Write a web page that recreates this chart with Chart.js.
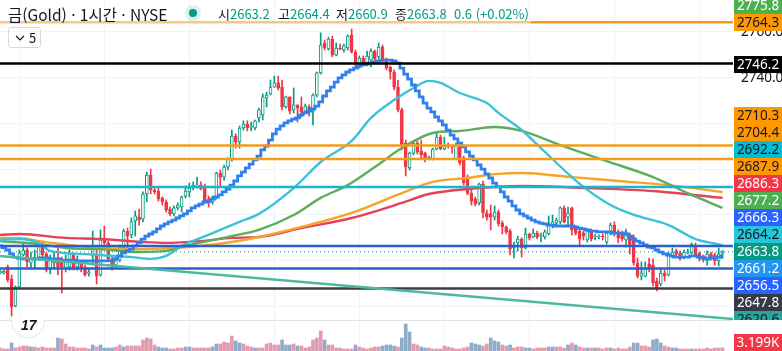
<!DOCTYPE html>
<html lang="ko">
<head>
<meta charset="utf-8">
<title>금(Gold) 1시간</title>
<script src="https://cdn.jsdelivr.net/npm/chart.js@4/dist/chart.umd.js"></script>
<style>
  html, body { margin: 0; padding: 0; background: #fff; }
  #wrap { position: relative; width: 782px; height: 351px; overflow: hidden; font-family: "Noto Sans CJK KR", "Noto Sans", sans-serif; color: #131722; }
  canvas { position: absolute; left: 0; top: 0; }
  .abs { position: absolute; white-space: nowrap; }
  .tag { position: absolute; left: 734px; width: 48px; height: 17px; font: 13.5px/17px "Noto Sans", sans-serif; text-align: center; }
  .num { color: #089981; }
</style>
</head>
<body>
<div id="wrap">
  <canvas id="chart" width="782" height="351"></canvas>
  <div class="abs" style="left:0;top:20px;width:531px;height:4px;background:rgba(255,255,255,.45)"></div>
  <div class="abs" style="left:8px;top:3px;font-size:15.5px;line-height:22px">금(Gold) · 1시간 · NYSE</div>
  <div class="abs" style="left:185px;top:5px;width:16px;height:16px;border-radius:50%;background:rgba(8,153,129,.14)"></div>
  <div class="abs" style="left:189px;top:9px;width:8px;height:8px;border-radius:50%;background:#089981"></div>
  <div id="ohlc"></div>
  <div class="abs" style="left:8px;top:27px;width:31px;height:19px;border:1px solid #d6d8de;border-radius:3px;font-size:13px;line-height:19px">
    <svg width="10" height="6" style="position:absolute;left:6px;top:7px"><path d="M1 1l4 4 4-4" fill="none" stroke="#131722" stroke-width="1.2"/></svg>
    <span style="position:absolute;left:20px;top:0">5</span>
  </div>
  <div class="abs" style="left:11px;top:320px;width:34px;height:19px;overflow:hidden">
    <div style="position:absolute;left:0;top:-16px;width:32px;height:32px;border:1px solid #e3e5ea;border-radius:50%;background:#fff"></div>
    <div style="position:absolute;left:10px;top:-2px;font:italic 900 14px/14px 'Liberation Sans',sans-serif;color:#131722">17</div>
  </div>
  <div id="tags"></div>
</div>
<script>
const opens = [
  2654.5,2654.5,2657.2,2651.9,2640.1,2648.4,2662.4,2664.6,2658.9,2660.2,
  2661.5,2666.8,2662.9,2656.3,2658.9,2660.2,2660.2,2656.7,2657.2,2662.9,
  2657.2,2658.9,2657.2,2654.5,2662.0,2662.4,2653.7,2669.0,2667.7,2660.7,
  2658.0,2660.2,2665.5,2672.9,2671.2,2677.3,2679.0,2678.2,2689.1,2697.4,
  2690.9,2690.4,2687.4,2685.6,2682.5,2680.4,2683.0,2683.4,2688.2,2690.0,
  2692.2,2692.6,2693.0,2692.6,2686.9,2685.6,2687.8,2698.3,2696.5,2700.9,
  2704.0,2714.5,2711.9,2718.0,2719.7,2718.4,2718.0,2722.4,2723.7,2731.1,
  2732.9,2735.9,2737.7,2735.9,2727.2,2731.6,2725.9,2728.1,2727.2,2725.4,
  2727.2,2725.4,2732.4,2742.1,2755.2,2752.6,2756.9,2749.9,2753.0,2752.1,
  2753.0,2758.7,2751.2,2745.6,2748.6,2746.4,2747.7,2751.7,2749.1,2753.4,
  2747.7,2744.7,2742.5,2735.9,2725.9,2711.4,2700.5,2707.0,2711.4,2707.9,
  2707.0,2704.4,2704.4,2708.8,2714.0,2708.8,2710.5,2710.1,2704.4,2709.7,
  2704.9,2696.1,2689.5,2686.9,2685.2,2693.5,2680.8,2680.4,2679.0,2681.2,
  2676.4,2674.7,2672.9,2665.5,2667.7,2669.4,2665.5,2671.6,2670.3,2672.0,
  2670.7,2670.3,2671.6,2675.5,2676.4,2676.9,2683.0,2679.0,2683.0,2674.2,
  2672.9,2672.0,2669.0,2672.9,2670.3,2670.3,2670.7,2668.1,2672.0,2675.5,
  2672.5,2672.0,2669.0,2670.3,2670.3,2658.9,2653.2,2653.2,2658.5,2658.0,
  2651.0,2649.7,2654.5,2653.7,2661.5,2664.2,2663.3,2661.5,2663.3,2663.3,
  2666.8,2663.3,2662.0,2659.8,2662.9,2662.4,2659.8,2663.2
]
const highs = [
  2655.8,2655.8,2658.0,2653.7,2648.9,2664.6,2667.2,2665.5,2663.7,2664.6,
  2667.7,2668.5,2663.7,2662.4,2663.3,2665.5,2661.5,2662.4,2664.6,2663.3,
  2662.0,2659.8,2658.0,2656.3,2672.9,2664.6,2673.4,2675.1,2668.5,2661.5,
  2661.5,2666.8,2673.8,2674.2,2678.6,2681.7,2682.5,2690.0,2698.7,2700.0,
  2692.2,2692.2,2687.8,2686.5,2683.4,2683.9,2685.2,2688.2,2692.6,2693.9,
  2694.4,2696.5,2694.4,2693.5,2688.2,2688.2,2698.7,2699.6,2701.8,2704.9,
  2717.1,2715.4,2718.9,2721.1,2721.1,2720.6,2721.5,2726.7,2732.9,2733.7,
  2739.0,2740.7,2740.7,2739.0,2732.0,2731.6,2735.5,2728.1,2731.6,2728.5,
  2728.1,2732.9,2742.5,2759.6,2756.5,2757.8,2758.2,2755.2,2754.7,2754.7,
  2758.7,2761.3,2752.1,2749.5,2749.5,2751.7,2752.6,2752.1,2755.2,2754.3,
  2748.6,2745.1,2743.4,2739.0,2726.7,2712.7,2707.5,2711.9,2712.3,2712.7,
  2707.5,2705.7,2709.2,2716.2,2714.9,2714.0,2711.4,2710.5,2711.4,2711.4,
  2705.7,2697.4,2690.9,2687.8,2693.9,2694.8,2682.1,2684.3,2683.9,2682.1,
  2677.3,2675.1,2673.8,2668.1,2670.7,2669.9,2674.2,2672.0,2673.8,2672.9,
  2672.0,2673.4,2679.5,2679.9,2678.6,2683.4,2683.9,2683.4,2683.4,2675.1,
  2674.2,2672.9,2673.8,2673.8,2671.6,2671.2,2671.6,2672.9,2676.4,2676.9,
  2673.4,2672.9,2673.8,2672.0,2671.2,2661.1,2659.4,2659.4,2661.1,2660.7,
  2652.3,2656.7,2655.8,2663.7,2665.5,2665.0,2664.2,2664.6,2665.0,2667.7,
  2667.7,2663.7,2662.4,2664.2,2663.7,2663.3,2665.5,2664.4
]
const lows = [
  2654.1,2654.1,2650.6,2635.7,2639.7,2648.0,2662.0,2657.2,2656.7,2656.7,
  2660.2,2661.5,2655.0,2654.1,2656.7,2653.7,2645.8,2655.0,2655.8,2655.8,
  2655.8,2655.0,2653.2,2653.2,2658.0,2649.7,2653.2,2664.6,2660.2,2655.8,
  2656.7,2659.4,2665.0,2664.6,2669.9,2670.7,2675.5,2676.9,2685.6,2689.1,
  2689.1,2686.0,2684.3,2681.2,2679.5,2679.5,2682.1,2681.2,2687.4,2687.8,
  2690.9,2691.7,2690.9,2685.2,2683.4,2684.7,2686.9,2692.2,2695.2,2699.6,
  2703.5,2709.2,2709.2,2717.1,2716.7,2716.7,2717.1,2720.6,2721.5,2727.2,
  2732.4,2735.9,2734.6,2725.9,2726.7,2724.1,2724.6,2720.6,2722.8,2724.6,
  2723.2,2719.3,2731.6,2741.6,2752.1,2752.1,2749.1,2749.5,2752.1,2751.2,
  2752.1,2750.8,2744.2,2744.2,2746.4,2745.1,2744.7,2747.3,2748.2,2746.9,
  2743.4,2739.4,2734.6,2725.0,2708.4,2697.0,2699.6,2706.2,2706.6,2704.9,
  2703.1,2704.0,2704.0,2708.4,2708.4,2708.4,2709.2,2707.0,2704.0,2701.8,
  2693.0,2688.7,2684.3,2683.9,2684.3,2678.6,2677.7,2673.4,2677.7,2675.1,
  2671.6,2671.6,2662.4,2661.1,2664.2,2661.5,2665.0,2669.0,2669.9,2669.4,
  2668.1,2669.4,2671.2,2674.2,2675.5,2676.0,2676.4,2675.5,2671.2,2671.2,
  2666.4,2669.0,2668.1,2668.5,2669.0,2669.4,2669.0,2667.2,2671.2,2670.7,
  2667.7,2668.5,2665.9,2662.9,2658.0,2652.3,2651.5,2652.8,2655.0,2648.9,
  2646.7,2648.9,2651.0,2653.2,2661.1,2661.5,2660.2,2660.7,2662.9,2662.9,
  2661.5,2659.8,2659.4,2658.0,2660.2,2658.0,2657.6,2660.9
]
const closes = [
  2655.4,2655.4,2651.5,2639.7,2648.4,2663.3,2664.6,2659.4,2661.1,2661.5,
  2666.8,2662.4,2655.8,2660.2,2660.2,2657.2,2657.2,2660.2,2662.9,2656.7,
  2660.2,2656.3,2653.7,2655.0,2665.0,2653.2,2669.0,2667.7,2660.7,2657.6,
  2660.2,2665.9,2672.9,2670.7,2676.9,2679.5,2677.7,2689.1,2697.4,2690.9,
  2690.0,2686.9,2685.6,2682.1,2680.4,2683.0,2684.3,2687.8,2690.4,2691.7,
  2693.0,2693.0,2691.3,2686.0,2685.2,2687.4,2698.3,2696.5,2700.9,2704.4,
  2714.5,2711.9,2718.0,2719.7,2718.0,2718.9,2721.1,2725.9,2731.6,2732.4,
  2735.9,2737.7,2735.5,2727.2,2731.6,2725.4,2728.1,2726.7,2725.0,2727.6,
  2725.0,2732.4,2742.1,2754.3,2753.0,2756.9,2749.9,2753.0,2752.6,2753.9,
  2758.2,2751.2,2746.4,2748.6,2746.9,2749.5,2751.7,2748.2,2753.4,2747.7,
  2744.2,2742.5,2735.9,2725.9,2710.5,2700.9,2707.0,2711.4,2707.5,2706.2,
  2704.4,2705.3,2708.8,2714.0,2708.8,2710.1,2710.1,2709.7,2710.5,2702.7,
  2693.9,2689.5,2686.0,2684.7,2693.5,2680.8,2679.0,2679.0,2681.2,2676.0,
  2674.7,2672.5,2665.0,2666.4,2669.4,2665.5,2671.6,2669.9,2672.0,2670.3,
  2671.2,2672.5,2676.4,2676.9,2677.7,2683.0,2676.9,2680.8,2673.4,2672.0,
  2669.4,2670.7,2672.9,2669.4,2670.7,2670.7,2670.3,2672.0,2675.5,2672.0,
  2669.9,2669.4,2672.5,2666.4,2658.9,2653.2,2654.5,2656.7,2656.3,2650.2,
  2648.0,2654.5,2653.2,2662.9,2663.7,2662.9,2660.7,2663.7,2663.7,2667.2,
  2662.4,2660.7,2660.7,2662.9,2661.1,2659.8,2662.9,2663.8
]
// 거래량 (K)
const volumes = [
  3,2,2,8,3,4,5,5,4,4, 3,4,3,3,3,13,12,7,4,4, 3,3,3,2,6,4,6,3,3,3, 4,6,4,5,5,5,5,11,13,12,
  6,4,3,3,2,2,3,3,4,4, 3,3,3,3,3,4,7,7,9,8, 15,10,8,7,5,4,3,3,3,7, 8,6,6,11,6,6,7,5,5,3,
  4,11,13,20,11,6,6,3,3,2, 2,2,6,4,3,2,3,4,4,5, 6,6,5,4,13,27,19,7,6,4, 3,3,2,2,2,5,4,3,2,2,
  3,4,8,7,6,5,7,13,10,9, 6,5,6,3,4,4,3,3,2,3, 3,3,4,4,4,4,3,6,8,6, 4,3,3,3,3,3,2,3,3,2,
  3,2,2,4,8,8,5,5,4,11, 12,8,5,4,3,3,2,2,2,2, 2,2,2,3,2,3,3,3.199
]
const blueVolumeBars = [3,8,15,24,26,27,28,29,32,41,42,43,48,49,55,56,61,62,66,73,74,75,77,84,92,99,100,101,102,104,105,106,109,110,122,123,124,127,128,129,132,136,137,142,143,147,149,152,154,158,164,165,169,170,171,174,175,179]

// 계단형 이동평균 (봉마다 한 값)
const stepMa = [
  2666.4,2665.5,2664.6,2662.9,2661.5,2661.1,2660.7,2660.7,2660.7,2660.7,
  2660.7,2661.1,2661.1,2660.7,2660.7,2660.7,2660.2,2660.2,2660.2,2660.2,
  2659.8,2659.8,2659.8,2659.8,2659.8,2659.8,2659.8,2659.8,2659.8,2659.8,
  2660.7,2662.0,2663.3,2664.2,2665.0,2666.4,2667.7,2669.4,2670.7,2671.6,
  2672.5,2673.8,2675.1,2676.0,2676.9,2677.7,2678.6,2679.5,2680.4,2681.7,
  2683.0,2683.9,2684.7,2685.6,2686.0,2686.9,2687.8,2688.7,2690.0,2691.3,
  2693.0,2694.8,2697.0,2698.7,2700.5,2702.2,2704.0,2705.7,2708.4,2710.1,
  2712.7,2715.4,2717.5,2718.9,2720.2,2721.1,2721.9,2722.4,2723.7,2724.6,
  2725.4,2726.3,2727.6,2729.4,2732.0,2734.2,2735.9,2738.1,2739.9,2741.2,
  2742.5,2743.4,2744.2,2745.1,2745.6,2746.0,2746.4,2746.9,2747.3,2747.7,
  2747.7,2747.7,2747.3,2746.4,2744.2,2741.6,2739.4,2736.8,2734.2,2731.6,
  2728.9,2726.7,2725.0,2722.8,2721.1,2719.3,2717.1,2714.9,2713.2,2711.4,
  2709.7,2707.5,2705.7,2704.0,2701.8,2700.0,2697.9,2696.1,2693.9,2692.2,
  2690.0,2687.8,2686.0,2683.9,2682.1,2680.4,2679.5,2678.6,2677.7,2676.9,
  2676.4,2676.0,2675.5,2675.5,2675.1,2675.1,2675.1,2675.1,2675.1,2674.7,
  2674.2,2673.8,2673.4,2672.9,2672.9,2672.5,2672.5,2672.5,2672.5,2672.0,
  2672.0,2672.0,2671.6,2670.7,2669.4,2668.5,2667.7,2666.8,2665.9,2665.5,
  2664.6,2663.7,2662.9,2662.4,2662.0,2661.5,2661.5,2661.5,2661.5,2662.0,
  2662.0,2661.5,2661.1,2660.7,2661.1,2661.1,2661.5,2662.0
]
// 이동평균선: [봉 번호, 가격]
const cyanMa = [[0,2669.0],[5,2669.4],[10,2667.7],[13,2664.2],[21,2662.9],[26,2662.4],[34,2661.5],[39,2660.7],[43,2662.0],[47,2666.4],[52,2669.9],[55,2672.0],[62,2676.9],[67,2680.4],[76,2691.7],[83,2703.1],[91,2712.3],[96,2722.4],[102,2730.2],[107,2735.5],[111,2738.6],[114,2737.7],[119,2733.3],[126,2728.9],[129,2724.6],[135,2717.1],[140,2709.2],[148,2696.5],[152,2690.9],[159,2683.4],[165,2679.5],[173,2675.5],[180,2669.4],[184,2667.7],[187,2666.8]]
const greenMa = [[0,2668.5],[10,2667.2],[17,2665.5],[26,2665.0],[36,2663.7],[43,2664.2],[48,2666.4],[60,2670.7],[67,2673.4],[76,2679.9],[83,2687.4],[90,2693.0],[97,2700.9],[104,2709.2],[112,2715.8],[119,2716.7],[128,2718.4],[135,2716.7],[145,2710.5],[157,2703.5],[169,2696.5],[178,2689.5],[187,2683.0]]
const orangeMa = [[0,2669.9],[5,2669.9],[10,2668.5],[16,2667.2],[26,2665.5],[36,2665.0],[45,2665.5],[52,2666.4],[60,2668.1],[67,2670.3],[78,2674.7],[91,2680.8],[104,2689.5],[112,2694.4],[121,2696.1],[129,2697.9],[135,2698.3],[148,2696.5],[160,2694.8],[173,2693.0],[187,2690.0]]
const redMa = [[0,2671.2],[5,2671.6],[17,2669.9],[26,2669.4],[37,2668.1],[43,2667.7],[52,2668.5],[60,2669.9],[67,2670.3],[78,2674.2],[91,2678.6],[104,2685.2],[111,2689.1],[121,2691.3],[135,2692.6],[152,2691.7],[169,2690.4],[187,2687.4]]
const trendLine = [[0,2662.0],[189.7,2634.4]]

const orangeLevels = [2764.3, 2710.3, 2704.4]
const blackLevel = 2746.2
const cyanLevel = 2692.2
const blueLevels = [2666.3, 2656.5]
const darkLevel = 2647.8
const lastPrice = 2663.8

const yTicks = [2760, 2740, 2720, 2700, 2680, 2660, 2640]
const xGridBars = [16, 38, 60, 82, 104, 126, 148, 170]

const legendParts = [["시","2663.2"],["고","2664.4"],["저","2660.9"],["종","2663.8"],["","0.6 (+0.02%)"]]
const legendLefts = [218, 278, 336, 395, 454]

// 오른쪽 가격표
const tagLabels = ["2775.8","2764.3","2746.2","2710.3","2704.4","2692.2","2687.9","2686.3","2677.2","2666.3","2664.2","2663.8","2661.2","2656.5","2647.8","2620.6","3.199K"]
const tagFills = ["#4caf50","#ff9800","#000000","#ff9800","#ff9800","#00bcd4","#ff9800","#f23645","#4caf50","#2962ff","#26c6da","#089981","#2196f3","#2962ff","#363a45","#26a69a","#f23645"]
const tagInks = ["#fff","#131722","#fff","#131722","#131722","#131722","#131722","#fff","#fff","#fff","#131722","#fff","#fff","#fff","#fff","#131722","#fff"]
const tagTops = [-3,14,56,107,124,141,158,175,192,209,226,243,260,277,294,311,334]

const up = "#089981"
const down = "#f23645"
const gridColor = "#f0f3fa"
const xMax = 189.7

const bars = opens.map((_, i) => i)
const isUp = i => closes[i] >= opens[i]
const pairs = list => list.map(p => ({ x: p[0], y: p[1] }))
const flat = (y) => [{ x: 0, y: y }, { x: xMax, y: y }]

function levelLine(y, color, extra) {
  return Object.assign({ type: "line", data: flat(y), borderColor: color, borderWidth: 2.5, pointRadius: 0, order: 3 }, extra)
}
function maLine(list, color) {
  return { type: "line", data: pairs(list), borderColor: color, borderWidth: 2.4, pointRadius: 0, cubicInterpolationMode: "monotone", order: 5 }
}

const datasets = [
  {
    type: "bar", yAxisID: "vol", grouped: false, order: 10, barThickness: 3,
    data: bars.map(i => ({ x: i, y: volumes[i] })),
    backgroundColor: bars.map(i => blueVolumeBars.includes(i) ? "#8fadcb" : "#e29bb0")
  },
  {
    type: "bar", grouped: false, order: 9, barThickness: 1,
    data: bars.map(i => ({ x: i, y: [lows[i], highs[i]] })),
    backgroundColor: bars.map(i => isUp(i) ? up : down)
  },
  {
    type: "bar", grouped: false, order: 8, barThickness: 3, borderWidth: 1, borderSkipped: false,
    data: bars.map(i => ({ x: i, y: [opens[i], closes[i]] })),
    backgroundColor: bars.map(i => isUp(i) ? "#fff" : down),
    borderColor: bars.map(i => isUp(i) ? up : down)
  },
  maLine(cyanMa, "#3ac2da"),
  maLine(greenMa, "#5bae5b"),
  maLine(orangeMa, "#f7a428"),
  maLine(redMa, "#e6405a"),
  { type: "line", data: bars.map(i => ({ x: i, y: stepMa[i] })), stepped: "middle", borderColor: "#2f80ed", borderWidth: 2.8, pointRadius: 0, order: 4 },
  ...orangeLevels.map(y => levelLine(y, "#f39c1c")),
  levelLine(blackLevel, "#000"),
  levelLine(cyanLevel, "#1db4cc"),
  ...blueLevels.map(y => levelLine(y, "#2b5fc9")),
  levelLine(darkLevel, "#3c3c42"),
  levelLine(lastPrice, "#089981", { borderWidth: 1, borderDash: [1, 3] }),
  { type: "line", data: pairs(trendLine), borderColor: "#4db8a2", borderWidth: 2.4, pointRadius: 0, order: 2 }
]

// 거래량 영역 구분선
const paneDivider = {
  id: "paneDivider",
  afterDraw(chart) {
    const c = chart.ctx
    c.save()
    c.fillStyle = "#e0e3eb"
    c.fillRect(0, 320, chart.chartArea.right, 1)
    c.restore()
  }
}

new Chart(document.getElementById("chart"), {
  type: "bar",
  data: { datasets: datasets },
  plugins: [paneDivider],
  options: {
    responsive: false,
    animation: false,
    events: [],
    layout: { padding: 0, autoPadding: false },
    plugins: { legend: { display: false }, tooltip: { enabled: false } },
    scales: {
      x: {
        type: "linear", min: 0, max: xMax, offset: false,
        grid: { color: gridColor, drawTicks: false },
        border: { display: false },
        ticks: { display: false },
        afterBuildTicks(s) { s.ticks = xGridBars.map(v => ({ value: v })) },
        afterFit(s) { s.height = 0 }
      },
      y: {
        position: "right", min: 2620.4, max: 2774,
        grid: { color: gridColor, drawTicks: false },
        border: { display: false },
        ticks: {
          padding: 8, color: "#131722", autoSkip: false,
          font: { family: "Noto Sans", size: 13.5 },
          callback: v => v.toFixed(1)
        },
        afterBuildTicks(s) { s.ticks = yTicks.map(v => ({ value: v })) },
        afterFit(s) { s.width = 49; s.paddingTop = 0; s.paddingBottom = 0 }
      },
      vol: { display: false, min: 0, max: 351 }
    }
  }
})

const legendBox = document.getElementById("ohlc")
legendParts.forEach((p, i) => {
  const d = document.createElement("div")
  d.className = "abs"
  d.style.cssText = "left:" + legendLefts[i] + "px;top:4px;font-size:13px;line-height:20px"
  d.innerHTML = p[0] + '<span class="num">' + p[1] + "</span>"
  legendBox.appendChild(d)
})

const tagBox = document.getElementById("tags")
tagLabels.forEach((label, i) => {
  const d = document.createElement("div")
  d.className = "tag"
  d.textContent = label
  d.style.top = tagTops[i] + "px"
  d.style.background = tagFills[i]
  d.style.color = tagInks[i]
  if (label === "2620.6") { d.style.height = "9px"; d.style.overflow = "hidden" }
  tagBox.appendChild(d)
})
</script>
</body>
</html>
